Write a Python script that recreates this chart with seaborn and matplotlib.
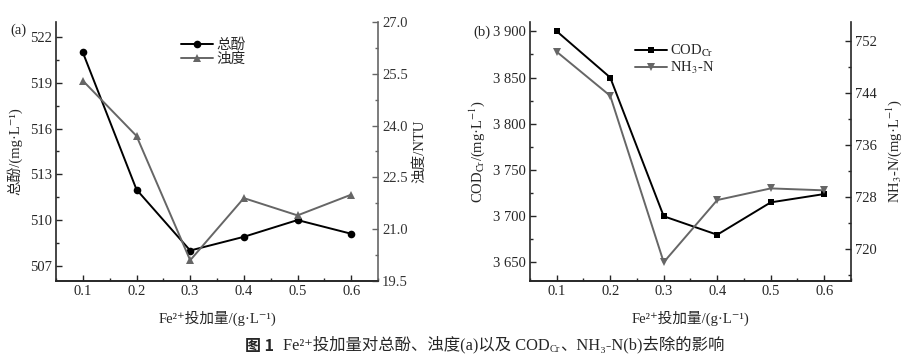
import numpy as np
import pandas as pd
import matplotlib
matplotlib.use('Agg')
import matplotlib.pyplot as plt
from matplotlib.text import Annotation
from matplotlib.ticker import MultipleLocator, AutoMinorLocator, FuncFormatter
import seaborn as sns

# Данные
fe_dose = [0.1, 0.2, 0.3, 0.4, 0.5, 0.6]
phenol = [521.0, 512.0, 508.0, 508.9, 510.0, 509.1]
turbidity = [25.3, 23.7, 20.1, 21.9, 21.4, 22.0]
cod = [3900, 3850, 3700, 3680, 3715, 3724]
nh3n = [750.4, 743.6, 717.9, 727.5, 729.3, 729.0]

GRAY = '#666666'
FONTS = ['Liberation Serif', 'DejaVu Serif', 'Noto Sans CJK SC']

sns.set_style('ticks')
plt.rcParams['font.family'] = FONTS
plt.rcParams['mathtext.fontset'] = 'stix'
plt.rcParams['axes.unicode_minus'] = False
plt.rcParams['xtick.direction'] = 'in'
plt.rcParams['ytick.direction'] = 'in'

df = pd.DataFrame({'x': fe_dose, 'phenol': phenol, 'turb': turbidity,
                   'cod': cod, 'nh3n': nh3n})

fig = plt.figure(figsize=(9.05, 3.59), dpi=100)
ax_a = fig.add_axes([0.0619, 0.2173, 0.3558, 0.7214])
ax_b = fig.add_axes([0.5856, 0.2173, 0.3547, 0.7214])
ax_a2 = ax_a.twinx()
ax_b2 = ax_b.twinx()

# (a) 总酚 / 浊度
sns.lineplot(data=df, x='x', y='phenol', ax=ax_a, color='black', marker='o',
             markersize=5.5, markeredgewidth=0, linewidth=1.4, label='总酚', legend=False)
sns.lineplot(data=df, x='x', y='turb', ax=ax_a2, color=GRAY, marker='^',
             markersize=6, markeredgewidth=0, linewidth=1.4, label='浊度', legend=False)
ax_a.set_ylim(506, 523)
ax_a2.set_ylim(19.5, 27.0)
ax_a.yaxis.set_major_locator(MultipleLocator(3))
ax_a2.yaxis.set_major_locator(MultipleLocator(1.5))
ax_a2.yaxis.set_major_formatter(FuncFormatter(lambda v, p: f'{v:.1f}'))

# (b) COD / NH3-N
sns.lineplot(data=df, x='x', y='cod', ax=ax_b, color='black', marker='s',
             markersize=5, markeredgewidth=0, linewidth=1.4, label=r'COD$_{\mathrm{Cr}}$', legend=False)
sns.lineplot(data=df, x='x', y='nh3n', ax=ax_b2, color=GRAY, marker='v',
             markersize=6, markeredgewidth=0, linewidth=1.4, label=r'NH$_3$-N', legend=False)
ax_b.set_ylim(3630, 3910)
ax_b2.set_ylim(715, 755)
ax_b.yaxis.set_major_locator(MultipleLocator(50))
ax_b2.yaxis.set_major_locator(MultipleLocator(8))
ax_b.yaxis.set_major_formatter(FuncFormatter(lambda v, p: f'{int(v):,}'.replace(',', ' ')))

xlabel = 'Fe²⁺投加量/(g·L⁻¹)'
for ax, ax2 in [(ax_a, ax_a2), (ax_b, ax_b2)]:
    ax.set_xlim(0.05, 0.65)
    ax.xaxis.set_major_locator(MultipleLocator(0.1))
    ax.xaxis.set_major_formatter(FuncFormatter(lambda v, p: f'{v:.1f}'))
    for a in (ax, ax2):
        a.xaxis.set_minor_locator(AutoMinorLocator(2))
        a.yaxis.set_minor_locator(AutoMinorLocator(2))
        a.tick_params(which='major', length=4, width=1, labelsize=10.5, pad=3)
        a.tick_params(which='minor', length=2.5, width=1)
        a.spines['top'].set_visible(False)
        for s in a.spines.values():
            s.set_linewidth(1.2)
    ax.tick_params(axis='x', top=False)
    ax.set_xlabel(xlabel, fontsize=10.5)
    ax.xaxis.set_label_coords(0.5, -0.115)
    ax.spines['right'].set_visible(False)

ax_a.set_ylabel('总酚/(mg·L⁻¹)', fontsize=10.5)
ax_a.yaxis.set_label_coords(-0.105, 0.5)
ax_a2.set_ylabel('浊度/NTU', fontsize=10.5)
ax_a2.yaxis.set_label_coords(1.109, 0.5)
ax_a2.spines['right'].set_color(GRAY)
ax_a2.spines['left'].set_visible(False)
ax_a2.tick_params(axis='y', which='both', color=GRAY, labelcolor='#333333')

ax_b.set_ylabel(r'COD$_{\mathrm{Cr}}$/(mg·L$^{-1}$)', fontsize=10.5)
ax_b.yaxis.set_label_coords(-0.135, 0.5)
ax_b2.set_ylabel(r'NH$_3$-N/(mg·L$^{-1}$)', fontsize=10.5)
ax_b2.yaxis.set_label_coords(1.105, 0.5)
ax_b2.spines['left'].set_visible(False)

# Легенды
for ax, ax2, anchor in [(ax_a, ax_a2, (0.37, 0.96)), (ax_b, ax_b2, (0.31, 0.94))]:
    h1, l1 = ax.get_legend_handles_labels()
    h2, l2 = ax2.get_legend_handles_labels()
    ax.legend(h1 + h2, l1 + l2, loc='upper left', bbox_to_anchor=anchor,
              frameon=False, fontsize=10.5, handlelength=2.2, handletextpad=0.2,
              labelspacing=0.05, borderaxespad=0)

fig.text(0.011, 0.905, '(a)', fontsize=10.5)
fig.text(0.523, 0.9, '(b)', fontsize=10.5)

# Подпись рисунка (по частям, чтобы получить индекс Cr)
fig.text(0.271, 0.015, '图 1', fontsize=11.5, fontweight='bold',
         family=['Noto Sans CJK SC', 'DejaVu Sans'], va='bottom')
t1 = fig.text(0.313, 0.015, 'Fe²⁺投加量对总酚、浊度(a)以及 COD', fontsize=11.8, va='bottom')
t2 = fig.add_artist(Annotation('Cr', xy=(1, 0), xycoords=t1, fontsize=7.5, va='bottom'))
t3 = fig.add_artist(Annotation('、NH₃-N(b)去除的影响', xy=(1, 0),
                               xycoords=(t2, t1), fontsize=11.8, va='bottom'))

fig.savefig('out.png', dpi=100)
